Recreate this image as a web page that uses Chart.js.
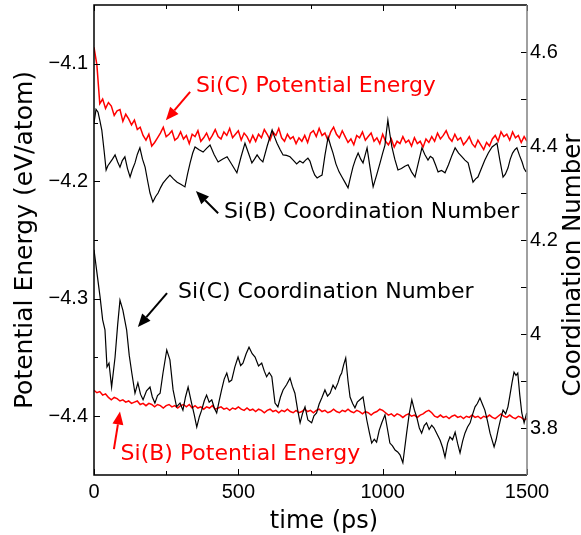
<!DOCTYPE html>
<html>
<head>
<meta charset="utf-8">
<script src="https://cdn.jsdelivr.net/npm/chart.js@4.4.1/dist/chart.umd.min.js"></script>
<style>
html,body{margin:0;padding:0;background:#fff;}
canvas{display:block;}
</style>
</head>
<body>
<canvas id="c" width="581" height="535"></canvas>
<script>
// ---------------- data ----------------
// Si(C) coordination number (right axis)
const sicCnTime = [
  0,9,21,30,38,45,52,61,73,82,
  90,100,113,122,131,142,152,161,170,182,
  194,202,211,220,229,239,252,263,274,286,
  298,308,317,326,338,347,356,365,373,382,
  390,399,408,417,425,434,442,451,460,468,
  477,488,499,508,516,527,537,548,558,570,
  581,590,598,607,616,627,637,646,655,667,
  679,687,696,705,714,722,731,741,754,762,
  771,780,789,800,809,818,828,836,845,852,
  858,865,872,880,887,896,904,912,921,932,
  945,954,962,971,979,988,997,1008,1016,1025,
  1034,1043,1052,1060,1070,1083,1092,1101,1110,1118,
  1127,1135,1144,1152,1161,1170,1178,1187,1199,1208,
  1216,1225,1233,1242,1251,1260,1268,1277,1285,1294,
  1303,1312,1320,1328,1337,1346,1354,1363,1372,1386,
  1393,1400,1409,1417,1426,1434,1441,1448,1455,1462,
  1468,1475,1482,1490,1499
];
const sicCnValue = [
  4.179,4.136,4.079,4.030,4.009,3.930,3.938,3.887,3.951,4.020,
  4.072,4.051,4.009,3.955,3.917,3.874,3.896,3.872,3.860,3.879,
  3.887,3.866,3.853,3.869,3.874,3.917,3.966,3.945,3.881,3.845,
  3.853,3.838,3.866,3.887,3.853,3.829,3.802,3.824,3.838,3.858,
  3.870,3.855,3.860,3.842,3.832,3.859,3.881,3.904,3.917,3.898,
  3.902,3.930,3.951,3.933,3.938,3.958,3.972,3.958,3.951,3.932,
  3.938,3.921,3.909,3.918,3.909,3.853,3.845,3.866,3.881,3.892,
  3.906,3.889,3.874,3.840,3.811,3.830,3.845,3.817,3.811,3.826,
  3.832,3.851,3.864,3.881,3.868,3.874,3.891,3.883,3.896,3.910,
  3.917,3.935,3.949,3.900,3.866,3.852,3.843,3.855,3.860,3.866,
  3.817,3.790,3.768,3.776,3.770,3.795,3.811,3.828,3.800,3.768,
  3.762,3.753,3.749,3.743,3.726,3.789,3.830,3.860,3.838,3.823,
  3.800,3.789,3.805,3.811,3.797,3.806,3.800,3.789,3.774,3.758,
  3.738,3.768,3.781,3.775,3.791,3.766,3.747,3.772,3.789,3.802,
  3.811,3.830,3.845,3.852,3.864,3.850,3.838,3.815,3.789,3.760,
  3.775,3.796,3.820,3.838,3.830,3.845,3.870,3.896,3.919,3.912,
  3.917,3.870,3.832,3.811,3.832
];

// Si(B) coordination number (right axis)
const sibCnTime = [
  0,7,14,20,27,35,42,48,55,64,
  73,82,90,98,107,116,125,133,142,150,
  159,168,177,186,194,204,213,222,231,239,
  251,263,275,288,302,315,324,333,342,350,
  364,378,390,402,416,430,445,461,478,495,
  509,523,535,547,556,565,575,585,600,617,
  625,634,645,655,667,679,690,702,713,724,
  733,741,748,757,765,773,781,790,800,811,
  820,828,838,849,859,870,880,889,897,906,
  915,924,932,939,946,956,967,979,991,1000,
  1008,1013,1018,1025,1032,1042,1053,1065,1077,1088,
  1100,1112,1124,1136,1146,1157,1165,1174,1183,1192,
  1204,1216,1228,1240,1251,1263,1275,1285,1296,1305,
  1313,1322,1330,1342,1354,1366,1379,1388,1396,1406,
  1417,1425,1434,1442,1450,1458,1465,1474,1483,1490,1497
];
const sibCnValue = [
  4.449,4.478,4.472,4.455,4.434,4.390,4.349,4.358,4.364,4.372,
  4.381,4.366,4.355,4.369,4.377,4.352,4.334,4.350,4.364,4.382,
  4.396,4.372,4.355,4.325,4.300,4.281,4.292,4.300,4.312,4.321,
  4.330,4.338,4.330,4.323,4.318,4.313,4.340,4.364,4.385,4.398,
  4.392,4.387,4.395,4.402,4.382,4.366,4.372,4.377,4.360,4.343,
  4.376,4.406,4.385,4.364,4.372,4.381,4.372,4.366,4.400,4.434,
  4.420,4.406,4.392,4.381,4.380,4.377,4.370,4.362,4.368,4.364,
  4.370,4.374,4.368,4.350,4.338,4.332,4.335,4.338,4.380,4.419,
  4.400,4.385,4.362,4.345,4.334,4.322,4.311,4.335,4.355,4.372,
  4.385,4.372,4.364,4.380,4.396,4.355,4.313,4.338,4.364,4.385,
  4.402,4.430,4.455,4.425,4.398,4.372,4.349,4.352,4.357,4.360,
  4.345,4.334,4.365,4.396,4.382,4.370,4.378,4.374,4.360,4.345,
  4.348,4.343,4.360,4.380,4.396,4.385,4.377,4.370,4.364,4.342,
  4.323,4.330,4.334,4.352,4.370,4.385,4.398,4.402,4.406,4.370,
  4.334,4.340,4.353,4.372,4.385,4.392,4.396,4.380,4.366,4.352,4.345
];

// Si(C) potential energy (left axis), sampled every 10 ps from 0 to 1500
const sicPeValue = [
  -4.086,-4.101,-4.134,-4.130,-4.138,-4.133,-4.136,-4.144,-4.140,-4.139,
  -4.149,-4.143,-4.147,-4.152,-4.148,-4.156,-4.154,-4.161,-4.165,-4.160,
  -4.170,-4.167,-4.163,-4.159,-4.154,-4.162,-4.160,-4.157,-4.165,-4.163,
  -4.158,-4.164,-4.161,-4.168,-4.160,-4.162,-4.157,-4.166,-4.163,-4.159,
  -4.165,-4.161,-4.156,-4.162,-4.164,-4.158,-4.161,-4.155,-4.163,-4.160,
  -4.157,-4.165,-4.159,-4.162,-4.167,-4.161,-4.166,-4.160,-4.163,-4.156,
  -4.160,-4.165,-4.158,-4.161,-4.155,-4.163,-4.166,-4.160,-4.164,-4.162,
  -4.168,-4.163,-4.166,-4.161,-4.167,-4.159,-4.157,-4.162,-4.155,-4.161,
  -4.159,-4.165,-4.158,-4.154,-4.160,-4.163,-4.157,-4.162,-4.167,-4.164,
  -4.169,-4.161,-4.163,-4.158,-4.165,-4.162,-4.159,-4.166,-4.163,-4.168,
  -4.160,-4.166,-4.169,-4.164,-4.171,-4.166,-4.168,-4.162,-4.167,-4.165,
  -4.170,-4.163,-4.168,-4.166,-4.171,-4.164,-4.167,-4.162,-4.166,-4.159,
  -4.164,-4.161,-4.157,-4.163,-4.166,-4.160,-4.165,-4.163,-4.169,-4.166,
  -4.162,-4.168,-4.171,-4.165,-4.169,-4.173,-4.167,-4.170,-4.164,-4.161,
  -4.166,-4.158,-4.162,-4.160,-4.165,-4.158,-4.163,-4.161,-4.167,-4.162,
  -4.166
];
const sicPeStep = 10;

// Si(B) potential energy (left axis), sampled every 10 ps from 0 to 1500
const sibPeValue = [
  -4.378,-4.380,-4.379,-4.382,-4.381,-4.384,-4.386,-4.384,-4.385,-4.387,
  -4.386,-4.388,-4.387,-4.389,-4.388,-4.387,-4.390,-4.389,-4.391,-4.389,
  -4.390,-4.392,-4.390,-4.391,-4.393,-4.391,-4.390,-4.392,-4.391,-4.393,
  -4.391,-4.390,-4.392,-4.390,-4.393,-4.391,-4.393,-4.392,-4.394,-4.392,
  -4.393,-4.391,-4.394,-4.393,-4.392,-4.394,-4.393,-4.395,-4.393,-4.394,
  -4.392,-4.394,-4.395,-4.393,-4.395,-4.394,-4.396,-4.394,-4.395,-4.397,
  -4.395,-4.394,-4.396,-4.395,-4.397,-4.395,-4.396,-4.394,-4.396,-4.397,
  -4.395,-4.397,-4.396,-4.394,-4.396,-4.395,-4.397,-4.395,-4.394,-4.396,
  -4.395,-4.397,-4.396,-4.394,-4.396,-4.397,-4.395,-4.396,-4.394,-4.396,
  -4.397,-4.395,-4.396,-4.398,-4.396,-4.397,-4.399,-4.397,-4.396,-4.394,
  -4.395,-4.397,-4.399,-4.398,-4.400,-4.398,-4.399,-4.401,-4.399,-4.398,
  -4.400,-4.399,-4.401,-4.399,-4.398,-4.396,-4.395,-4.397,-4.400,-4.401,
  -4.399,-4.401,-4.400,-4.402,-4.400,-4.399,-4.401,-4.400,-4.402,-4.400,
  -4.401,-4.399,-4.401,-4.400,-4.402,-4.400,-4.401,-4.399,-4.401,-4.402,
  -4.400,-4.398,-4.400,-4.401,-4.399,-4.401,-4.402,-4.400,-4.401,-4.403,
  -4.402
];
const sibPeStep = 10;

// ticks
const xTickValues = [0, 500, 1000, 1500];
const xTickLabels = ['0', '500', '1000', '1500'];
const xMinorTicks = [250, 750, 1250];
const leftTickValues = [-4.4, -4.3, -4.2, -4.1];
const leftTickLabels = ['\u22124.4', '\u22124.3', '\u22124.2', '\u22124.1'];
const leftMinorTicks = [-4.35, -4.25, -4.15];
const rightTickValues = [3.8, 4.0, 4.2, 4.4, 4.6];
const rightTickLabels = ['3.8', '4', '4.2', '4.4', '4.6'];
const rightMinorTicks = [3.9, 4.1, 4.3, 4.5];

// annotation labels (anchored in data units)
const noteTexts = ['Si(C) Potential Energy', 'Si(B) Coordination Number', 'Si(C) Coordination Number', 'Si(B) Potential Energy'];

// ---------------- layout / style ----------------
const notes = [
  {axis: 'yLeft',  color: '#ff0000', text: [353, -4.124], from: [333, -4.124], to: [249, -4.148]},
  {axis: 'yRight', color: '#000000', text: [450, 4.247],  from: [430, 4.257],  to: [353, 4.304]},
  {axis: 'yRight', color: '#000000', text: [291, 4.077],  from: [253, 4.087],  to: [152, 4.015]},
  {axis: 'yLeft',  color: '#ff0000', text: [92, -4.437],  from: [69, -4.428],  to: [90, -4.396]}
];
const TICK_FONT = {family: "'Liberation Sans', Arial, sans-serif", size: 20};
const TITLE_FAMILY = "'DejaVu Sans', sans-serif";

const toXY = (ts, vs) => vs.map((v, i) => ({x: ts[i], y: v}));
const gridXY = (vs, step) => vs.map((v, i) => ({x: i * step, y: v}));

function drawArrow(ctx, x1, y1, x2, y2, color) {
  const ang = Math.atan2(y2 - y1, x2 - x1);
  const hl = 13, hw = 5.5;
  const bx = x2 - hl * Math.cos(ang), by = y2 - hl * Math.sin(ang);
  ctx.strokeStyle = color; ctx.lineWidth = 2;
  ctx.beginPath(); ctx.moveTo(x1, y1); ctx.lineTo(bx, by); ctx.stroke();
  ctx.fillStyle = color;
  ctx.beginPath();
  ctx.moveTo(x2, y2);
  ctx.lineTo(bx + hw * Math.sin(ang), by - hw * Math.cos(ang));
  ctx.lineTo(bx - hw * Math.sin(ang), by + hw * Math.cos(ang));
  ctx.closePath(); ctx.fill();
}

const framePlugin = {
  id: 'frameAndNotes',
  afterDraw(chart) {
    const {ctx, chartArea: a, scales} = chart;
    const xs = scales.x, yl = scales.yLeft, yr = scales.yRight;
    ctx.save();
    // tick marks (inward)
    const MAJ = 6, MIN = 4;
    ctx.strokeStyle = '#000'; ctx.lineWidth = 1;
    ctx.beginPath();
    const vx = (v, len) => { const p = Math.round(xs.getPixelForValue(v)) + 0.5;
      ctx.moveTo(p, a.bottom); ctx.lineTo(p, a.bottom - len);
      ctx.moveTo(p, a.top); ctx.lineTo(p, a.top + len); };
    xTickValues.forEach(v => vx(v, MAJ)); xMinorTicks.forEach(v => vx(v, MIN));
    const hl = (v, len) => { const p = Math.round(yl.getPixelForValue(v)) + 0.5;
      ctx.moveTo(a.left, p); ctx.lineTo(a.left + len, p); };
    leftTickValues.forEach(v => hl(v, MAJ)); leftMinorTicks.forEach(v => hl(v, MIN));
    const hr = (v, len) => { const p = Math.round(yr.getPixelForValue(v)) + 0.5;
      ctx.moveTo(a.right, p); ctx.lineTo(a.right - len, p); };
    rightTickValues.forEach(v => hr(v, MAJ)); rightMinorTicks.forEach(v => hr(v, MAJ));
    ctx.stroke();
    // frame
    ctx.lineWidth = 1.5; ctx.strokeStyle = '#000';
    ctx.beginPath();
    ctx.moveTo(a.right, a.top); ctx.lineTo(a.left, a.top); ctx.lineTo(a.left, a.bottom); ctx.lineTo(a.right, a.bottom);
    ctx.stroke();
    ctx.strokeStyle = '#808080';
    ctx.beginPath(); ctx.moveTo(a.right, a.top); ctx.lineTo(a.right, a.bottom); ctx.stroke();
    // annotations
    ctx.font = '22px ' + TITLE_FAMILY;
    ctx.textAlign = 'left'; ctx.textBaseline = 'alphabetic';
    notes.forEach((n, i) => {
      const ys = scales[n.axis];
      const px = p => [xs.getPixelForValue(p[0]), ys.getPixelForValue(p[1])];
      const [tx, ty] = px(n.text), [fx, fy] = px(n.from), [ex, ey] = px(n.to);
      ctx.fillStyle = n.color;
      ctx.fillText(noteTexts[i], tx, ty);
      drawArrow(ctx, fx, fy, ex, ey, n.color);
    });
    // x axis title
    ctx.fillStyle = '#000';
    ctx.font = '24px ' + TITLE_FAMILY;
    ctx.textAlign = 'center'; ctx.textBaseline = 'alphabetic';
    ctx.fillText('time (ps)', 324, 528);
    // right axis title (reads bottom to top)
    ctx.save();
    ctx.translate(580, 265);
    ctx.rotate(-Math.PI / 2);
    ctx.font = '24.5px ' + TITLE_FAMILY;
    ctx.fillText('Coordination Number', 0, 0);
    ctx.restore();
    ctx.restore();
  }
};

const noPad = s => { s.paddingLeft = 0; s.paddingRight = 0; s.paddingTop = 0; s.paddingBottom = 0; };

new Chart(document.getElementById('c'), {
  type: 'line',
  data: {
    datasets: [
      {label: 'Si(B) Coordination Number', data: toXY(sibCnTime, sibCnValue), yAxisID: 'yRight',
       borderColor: '#000', borderWidth: 1.2, pointRadius: 0},
      {label: 'Si(C) Coordination Number', data: toXY(sicCnTime, sicCnValue), yAxisID: 'yRight',
       borderColor: '#000', borderWidth: 1.2, pointRadius: 0},
      {label: 'Si(C) Potential Energy', data: gridXY(sicPeValue, sicPeStep), yAxisID: 'yLeft',
       borderColor: '#ff0000', borderWidth: 1.5, pointRadius: 0},
      {label: 'Si(B) Potential Energy', data: gridXY(sibPeValue, sibPeStep), yAxisID: 'yLeft',
       borderColor: '#ff0000', borderWidth: 1.5, pointRadius: 0}
    ]
  },
  options: {
    responsive: false,
    animation: false,
    devicePixelRatio: 1,
    layout: {padding: {top: 5, left: 0, right: 0, bottom: 0}},
    elements: {line: {tension: 0}},
    plugins: {legend: {display: false}, tooltip: {enabled: false}},
    scales: {
      x: {
        type: 'linear', position: 'bottom', min: 0, max: 1500,
        afterBuildTicks: s => { s.ticks = xTickValues.map(v => ({value: v})); },
        afterFit: s => { s.height = 60; noPad(s); },
        ticks: {autoSkip: false, maxRotation: 0, padding: 5, font: TICK_FONT, color: '#000',
                callback: (v, i) => xTickLabels[i]},
        grid: {display: false, drawTicks: false},
        border: {display: false}
      },
      yLeft: {
        type: 'linear', position: 'left', min: -4.45, max: -4.05,
        afterBuildTicks: s => { s.ticks = leftTickValues.map(v => ({value: v})); },
        afterFit: s => { s.width = 94; noPad(s); },
        ticks: {autoSkip: false, padding: 6, font: TICK_FONT, color: '#000',
                callback: (v, i) => leftTickLabels[i]},
        grid: {display: false, drawTicks: false},
        border: {display: false},
        title: {display: true, text: 'Potential Energy (eV/atom)', color: '#000',
                font: {family: TITLE_FAMILY, size: 25}, padding: {top: 10, bottom: 0}}
      },
      yRight: {
        type: 'linear', position: 'right', min: 3.7, max: 4.7,
        afterBuildTicks: s => { s.ticks = rightTickValues.map(v => ({value: v})); },
        afterFit: s => { s.width = 54; noPad(s); },
        ticks: {autoSkip: false, padding: 3, font: TICK_FONT, color: '#000',
                callback: (v, i) => rightTickLabels[i]},
        grid: {display: false, drawTicks: false},
        border: {display: false}
      }
    }
  },
  plugins: [framePlugin]
});
</script>
</body>
</html>
